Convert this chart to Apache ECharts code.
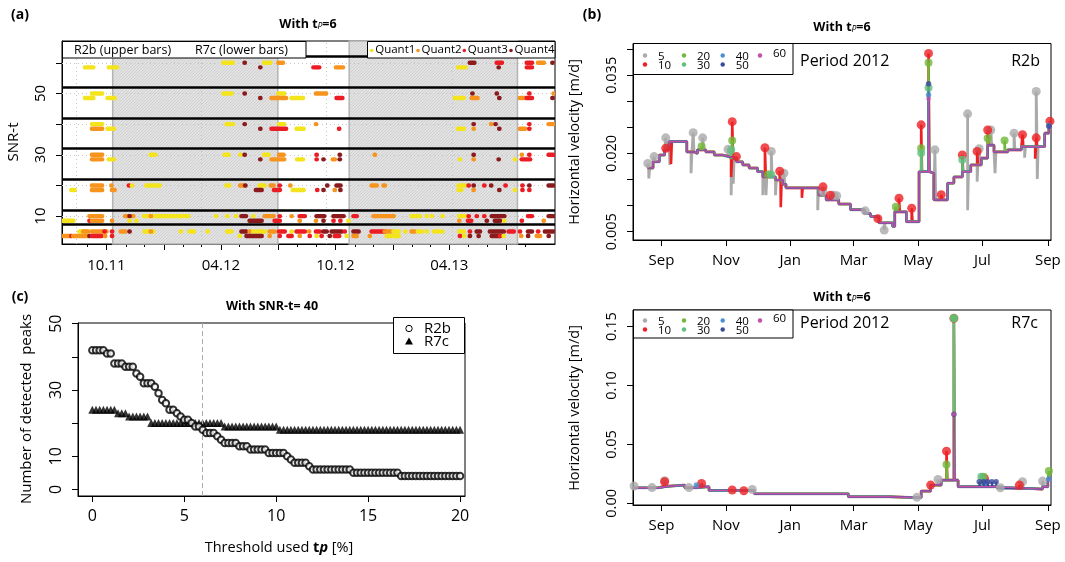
<!DOCTYPE html>
<html><head><meta charset="utf-8">
<script src="https://cdn.jsdelivr.net/npm/echarts@6/dist/echarts.min.js"></script>
<style>html,body{margin:0;padding:0;background:#fff}#c{width:1065px;height:562px}</style>
</head><body><div id="c"></div>
<script>
// ================= DATA =================
// ---- Panel (a): detected peaks per SNR-t threshold ----
const aStart = '2011-10-01';              // day offsets in the event lists are counted from this date
const snrLevels = [60, 50, 40, 30, 20, 10, 5];
const groupSeparators = [62, 52, 42, 32, 22, 12, 7.3];
const snowPeriods = [['2011-10-11', '2012-07-01'], ['2012-10-23', '2013-07-19']];
const aTickDates = ['2011-10-01', '2012-04-01', '2012-10-01', '2013-04-01'];
const aTickLabels = ['10.11', '04.12', '10.12', '04.13'];
const quantNames = ['Quant1', 'Quant2', 'Quant3', 'Quant4'];
// [SNR-t, first day, last day, quantile]
const eventsR2b = [
 [60,187,202,1],[60,221,221,4],[60,252,262,1],[60,275,282,2],[60,581,588,4],[60,624,632,3],[60,672,680,3],[60,690,699,2],[60,713,713,4],
 [50,-23,-7,1],[50,187,200,1],[50,221,221,4],[50,275,284,1],[50,335,351,2],[50,585,585,4],[50,624,624,4],[50,676,676,3],[50,715,715,2],
 [40,-23,-7,1],[40,192,202,1],[40,221,221,4],[40,276,284,1],[40,335,335,2],[40,587,587,4],[40,615,615,2],[40,622,622,4],[40,676,676,3],[40,707,714,2],
 [30,-23,-7,2],[30,71,78,1],[30,189,195,1],[30,214,214,1],[30,221,221,4],[30,252,259,1],[30,276,283,2],[30,336,336,3],[30,373,373,4],[30,429,429,2],[30,587,587,4],[30,664,664,2],[30,676,676,3],[30,707,714,3],
 [20,-23,-7,2],[20,8,8,2],[20,36,36,3],[20,41,41,1],[20,64,85,1],[20,192,196,1],[20,214,219,2],[20,222,222,4],[20,245,253,1],[20,263,267,2],[20,277,277,3],[20,294,294,2],[20,353,353,4],[20,368,374,4],[20,424,432,2],[20,443,445,2],[20,563,573,1],[20,579,579,3],[20,587,587,4],[20,604,604,3],[20,615,615,4],[20,638,638,3],[20,665,665,3],[20,676,676,4],[20,707,714,4],
 [10,-27,-7,2],[10,30,43,2],[10,37,37,4],[10,60,131,1],[10,71,71,2],[10,175,175,1],[10,193,193,1],[10,207,207,1],[10,216,223,4],[10,235,235,1],[10,253,267,2],[10,277,277,3],[10,296,296,2],[10,309,317,3],[10,336,348,4],[10,363,379,4],[10,395,400,3],[10,427,459,2],[10,488,501,1],[10,512,512,1],[10,520,520,1],[10,537,537,1],[10,564,573,1],[10,579,579,3],[10,592,592,3],[10,604,604,3],[10,616,636,4],[10,674,680,3],[10,707,714,4],
 [5,-43,-32,1],[5,-37,-29,2],[5,-23,0,2],[5,-3,-3,3],[5,9,9,3],[5,23,30,2],[5,37,37,4],[5,61,75,1],[5,71,71,2],[5,119,119,1],[5,133,140,1],[5,162,162,1],[5,193,200,1],[5,216,223,4],[5,229,229,2],[5,235,253,1],[5,261,269,2],[5,276,285,3],[5,296,296,1],[5,304,317,3],[5,324,324,2],[5,335,341,3],[5,347,352,4],[5,360,376,4],[5,381,381,3],[5,395,403,4],[5,424,445,3],[5,445,456,2],[5,459,467,1],[5,478,478,1],[5,488,493,2],[5,498,504,1],[5,512,512,1],[5,524,531,1],[5,537,537,1],[5,564,571,1],[5,581,581,3],[5,592,597,4],[5,613,635,4],[5,643,651,3],[5,661,661,3],[5,674,680,4],[5,690,690,3],[5,701,714,4]
];
const eventsR7c = [
 [60,-34,-21,1],[60,4,17,1],[60,246,246,4],[60,331,340,3],[60,367,378,2],[60,562,574,1],[60,627,627,4],[60,672,680,3],
 [50,-34,-21,1],[50,2,13,1],[50,246,246,4],[50,264,287,2],[50,296,314,1],[50,368,377,3],[50,557,571,1],[50,584,593,2],[50,628,628,4],[50,661,669,2],[50,672,680,3],[50,713,713,4],
 [40,-23,-7,2],[40,2,12,1],[40,246,246,4],[40,264,287,3],[40,304,315,1],[40,372,372,3],[40,562,571,1],[40,587,587,2],[40,628,628,4],[40,661,669,2],[40,676,676,3],
 [30,-23,-7,2],[30,4,12,1],[30,246,246,4],[30,264,284,2],[30,305,314,1],[30,336,336,3],[30,347,347,4],[30,362,365,2],[30,373,373,4],[30,565,565,1],[30,587,587,2],[30,627,627,4],[30,653,653,1],[30,664,677,3],
 [20,-56,-51,1],[20,-23,-7,2],[20,9,13,2],[20,239,248,4],[20,268,277,3],[20,298,315,1],[20,337,337,3],[20,347,347,4],[20,365,365,2],[20,374,374,4],[20,563,567,1],[20,587,587,2],[20,628,628,4],[20,653,653,1],[20,665,665,3],[20,676,676,3],
 [10,-71,-53,1],[10,-27,-27,3],[10,-23,-7,2],[10,9,9,2],[10,37,37,1],[10,48,48,1],[10,229,248,4],[10,269,277,3],[10,309,309,2],[10,335,335,2],[10,347,347,4],[10,363,363,3],[10,374,374,3],[10,387,387,1],[10,564,564,2],[10,578,583,3],[10,608,608,4],[10,621,629,4],[10,636,636,1],[10,664,664,3],[10,699,699,2],
 [5,-71,-57,2],[5,-56,-56,3],[5,-53,-29,2],[5,-27,-27,4],[5,-23,-8,3],[5,-2,-2,2],[5,9,9,3],[5,213,213,1],[5,224,248,4],[5,261,261,2],[5,277,277,3],[5,291,296,3],[5,309,309,2],[5,325,325,3],[5,336,336,1],[5,344,344,3],[5,357,357,4],[5,365,372,3],[5,384,384,1],[5,395,400,2],[5,421,421,2],[5,448,467,1],[5,565,565,3],[5,572,572,1],[5,581,581,4],[5,595,595,4],[5,616,629,4],[5,629,629,3],[5,635,635,1],[5,663,663,2],[5,674,674,4],[5,688,693,2],[5,707,707,4]
];

// ---- Panel (c): number of detected peaks vs threshold tp ----
const tpValues = [0,0.2,0.4,0.6,0.8,1,1.2,1.4,1.6,1.8,2,2.2,2.4,2.6,2.8,3,3.2,3.4,3.6,3.8,4,4.2,4.4,4.6,4.8,5,5.2,5.4,5.6,5.8,6,6.2,6.4,6.6,6.8,7,7.2,7.4,7.6,7.8,8,8.2,8.4,8.6,8.8,9,9.2,9.4,9.6,9.8,10,10.2,10.4,10.6,10.8,11,11.2,11.4,11.6,11.8,12,12.2,12.4,12.6,12.8,13,13.2,13.4,13.6,13.8,14,14.2,14.4,14.6,14.8,15,15.2,15.4,15.6,15.8,16,16.2,16.4,16.6,16.8,17,17.2,17.4,17.6,17.8,18,18.2,18.4,18.6,18.8,19,19.2,19.4,19.6,19.8,20];
const peaksR2b = [42,42,42,42,41,41,38,38,38,37,37,37,35,34,32,32,32,31,29,27,26,24,24,23,22,21,21,20,19,19,18,17,17,17,16,15,14,14,14,14,13,13,13,12,12,12,12,12,11,11,11,11,11,10,9,8,8,8,8,7,6,6,6,6,6,6,6,6,6,6,6,5,5,5,5,5,5,5,5,5,5,5,5,5,4,4,4,4,4,4,4,4,4,4,4,4,4,4,4,4,4];
const peaksR7c = [24,24,24,24,24,24,24,23,23,23,22,22,22,22,22,22,20,20,20,20,20,20,20,20,20,20,20,20,20,20,20,20,20,20,20,20,19,19,19,19,19,19,19,19,19,19,19,19,19,19,19,18,18,18,18,18,18,18,18,18,18,18,18,18,18,18,18,18,18,18,18,18,18,18,18,18,18,18,18,18,18,18,18,18,18,18,18,18,18,18,18,18,18,18,18,18,18,18,18,18,18];
const tpChosen = 6;

// ---- Panels (b) and (d): horizontal velocity, period 2012 ----
const snrNames = ['5', '10', '20', '30', '40', '50', '60'];
const vTickDates = ['2011-09-01','2011-11-01','2012-01-01','2012-03-01','2012-05-01','2012-07-01','2012-09-01'];
const vTickLabels = ['Sep','Nov','Jan','Mar','May','Jul','Sep'];
const vRange = ['2011-08-05', '2012-09-04'];
// common stepped velocity [date, m/d]
const r2bBase = [
 ['2011-08-19',0.0172],['2011-08-24',0.0184],['2011-08-30',0.0197],['2011-09-04',0.0207],['2011-09-08',0.0223],['2011-09-25',0.0203],
 ['2011-10-02',0.0200],['2011-10-05',0.0207],['2011-10-13',0.0203],['2011-10-21',0.0197],['2011-10-29',0.0194],['2011-11-04',0.0191],
 ['2011-11-11',0.0184],['2011-11-17',0.0178],['2011-11-23',0.0172],['2011-12-01',0.0165],['2011-12-06',0.0155],['2011-12-18',0.0149],
 ['2011-12-25',0.0141],['2011-12-28',0.0134],['2012-01-28',0.0120],['2012-02-04',0.0111],['2012-02-16',0.0103],['2012-02-27',0.0092],
 ['2012-03-11',0.0085],['2012-03-17',0.0079],['2012-03-25',0.0067],['2012-04-07',0.0060],['2012-04-09',0.0088],['2012-04-20',0.0069],
 ['2012-05-02',0.0165],['2012-05-13',0.0162],['2012-05-16',0.0111],['2012-05-29',0.0143],['2012-06-04',0.0155],['2012-06-12',0.0165],
 ['2012-06-20',0.0178],['2012-06-30',0.0191],['2012-07-06',0.0216],['2012-07-12',0.0203],['2012-07-25',0.0207],['2012-08-07',0.0213],
 ['2012-08-29',0.0239],['2012-09-02',0.0251],['2012-09-04',0.0251]
];
// detected peaks (drawn with a dot), one list per SNR-t
const r2bPeaks = [
 [['2011-08-19',0.0181],['2011-08-25',0.0194],['2011-09-05',0.0230],['2011-10-01',0.0240],['2011-10-10',0.0230],['2011-11-03',0.0208],['2011-12-14',0.0204],['2011-12-26',0.0162],['2012-02-01',0.0127],['2012-02-11',0.0120],['2012-02-14',0.0119],['2012-03-12',0.0090],['2012-03-30',0.0053],['2012-05-17',0.0207],['2012-06-17',0.0276],['2012-06-28',0.0209],['2012-07-09',0.0245],['2012-07-31',0.0239],['2012-08-21',0.0319]],
 [['2011-09-05',0.0210],['2011-11-07',0.0261],['2011-11-11',0.0194],['2011-12-08',0.0211],['2011-12-22',0.0166],['2012-02-01',0.0136],['2012-02-08',0.0120],['2012-03-24',0.0075],['2012-04-13',0.0114],['2012-04-25',0.0095],['2012-05-04',0.0255],['2012-05-11',0.0392],['2012-05-23',0.0121],['2012-06-12',0.0197],['2012-06-26',0.0204],['2012-07-06',0.0245],['2012-08-08',0.0236],['2012-08-21',0.0230],['2012-09-03',0.0262]],
 [['2011-10-09',0.0214],['2011-11-07',0.0225],['2011-12-11',0.0160],['2012-04-10',0.0098],['2012-05-04',0.0210],['2012-05-11',0.0374],['2012-07-06',0.0229],['2012-07-22',0.0225]],
 [['2011-11-06',0.0207],['2011-12-14',0.0159],['2012-05-04',0.0201],['2012-05-11',0.0326],['2012-06-12',0.0188]],
 [['2012-05-11',0.0312],['2012-09-02',0.0254]],
 [['2012-05-11',0.0334],['2012-09-02',0.0252]],
 [['2012-05-11',0.0305]]
];
// short downward excursions (no dot)
const r2bDips = [
 [['2011-08-20',0.0152],['2011-09-09',0.0178],['2011-09-29',0.0162],['2011-11-06',0.0120],['2011-11-08',0.0142],['2011-12-06',0.0120],['2011-12-09',0.0120],['2011-12-18',0.0120],['2012-01-27',0.0091],['2012-06-17',0.0091],['2012-06-26',0.0146],['2012-07-13',0.0162],['2012-08-10',0.0192],['2012-08-22',0.0151]],
 [['2011-09-10',0.0180],['2011-11-06',0.0155],['2011-12-23',0.0097],['2012-01-12',0.0115],['2012-08-20',0.0190]],
 [], [], [], [], []
];
const r7cBase = [
 ['2011-08-05',0.0132],['2011-08-29',0.0147],['2011-09-10',0.0155],['2011-09-23',0.0132],['2011-10-04',0.0141],['2011-10-16',0.0110],
 ['2011-11-28',0.0081],['2012-02-25',0.0056],['2012-04-04',0.0048],['2012-05-04',0.0104],['2012-05-13',0.0155],['2012-05-23',0.0197],
 ['2012-06-08',0.0141],['2012-07-14',0.0127],['2012-08-14',0.0121],['2012-08-27',0.0141],['2012-09-01',0.0212],['2012-09-04',0.0212]
];
const r7cPeaks = [
 [['2011-08-06',0.0147],['2011-08-23',0.0134],['2011-09-04',0.0192],['2011-09-27',0.0134],['2011-11-26',0.0118],['2012-04-30',0.0051],['2012-05-20',0.0203],['2012-07-18',0.0132],['2012-08-08',0.0183],['2012-08-27',0.0189]],
 [['2011-09-04',0.0183],['2011-10-09',0.0169],['2011-11-07',0.0113],['2011-11-18',0.0107],['2012-05-13',0.0155],['2012-05-28',0.0443],['2012-06-04',0.157],['2012-07-03',0.0212],['2012-08-05',0.0155]],
 [['2012-05-28',0.0330],['2012-06-04',0.157],['2012-07-02',0.0226],['2012-09-02',0.0274]],
 [['2012-06-04',0.157],['2012-06-30',0.0226]],
 [['2011-10-04',0.0155],['2012-07-04',0.0183],['2012-09-02',0.0206]],
 [['2012-06-04',0.0756],['2012-06-28',0.0183],['2012-07-02',0.0183],['2012-07-06',0.0183],['2012-07-10',0.0183],['2012-07-14',0.0183]],
 [['2012-06-04',0.0756]]
];
const r7cDips = [[], [], [], [], [], [], []];

// ================= STYLE =================
const FONT = "'Open Sans', 'Noto Sans', sans-serif";
const quantColors = ['#f3e41c', '#f7941d', '#ec1c24', '#8b1a1c'];
const snrColors = ['#aaaaaa', '#ee2024', '#72b83a', '#5fbf7d', '#4a8fd4', '#3b4a9c', '#c34fa6'];
const snrDot = [9, 9, 8, 8, 5.5, 5.5, 4.5];
const snrWidth = [2.8, 2.6, 2.4, 2.2, 2.0, 1.8, 1.4];
const DAY = 86400000;
const ts = s => Date.parse(s);

// ================= BUILD =================
const aT0 = ts(aStart);
const aMin = aT0 - 71 * DAY, aMax = aT0 + 717 * DAY;
const monthTicks = [], quarterTicks = [];
for (let k = 0; k < 24; k++) {
  const t = Date.UTC(2011, 8 + k, 1);
  monthTicks.push(t);
  if (new Date(t).getUTCMonth() % 3 === 0) quarterTicks.push(t);
}
const aData = [];
eventsR2b.forEach(e => aData.push([aT0 + e[1] * DAY, aT0 + e[2] * DAY, e[0], e[3]]));
eventsR7c.forEach(e => aData.push([aT0 + e[1] * DAY, aT0 + e[2] * DAY, e[0] - 1.5, e[3]]));

function hatchCanvas() {
  const c = document.createElement('canvas'); c.width = 3; c.height = 3;
  const g = c.getContext('2d');
  g.fillStyle = '#e2e2e2'; g.fillRect(0, 0, 3, 3);
  g.strokeStyle = '#cdcdcd'; g.lineWidth = 0.8; g.beginPath();
  g.moveTo(0, 3); g.lineTo(3, 0); g.moveTo(-1, 1); g.lineTo(1, -1); g.moveTo(2, 4); g.lineTo(4, 2);
  g.stroke();
  return c;
}

function stepAt(base, t) {
  let v = base[0][1];
  for (const p of base) { if (ts(p[0]) <= t) v = p[1]; else break; }
  return v;
}
function buildLine(base, peaks, dips) {
  const pts = base.map(p => [ts(p[0]), p[1]]);
  peaks.concat(dips).forEach(p => {
    const t = ts(p[0]);
    pts.push([t, p[1]]);
    pts.push([t + 0.8 * DAY, stepAt(base, t)]);
  });
  pts.sort((a, b) => a[0] - b[0]);
  return pts;
}

const AXL = { show: true, onZero: false, lineStyle: { color: '#000', width: 1 } };
const tick = (vals, len) => ({ show: true, customValues: vals, length: len, inside: false, lineStyle: { color: '#000', width: 1 } });
const lab = (vals, fmt, size, margin, rotate) => ({ show: true, customValues: vals, formatter: fmt, fontSize: size, fontFamily: FONT, color: '#000', margin: margin, rotate: rotate || 0, hideOverlap: false });
const noSplit = { show: false };

const vMin = ts(vRange[0]), vMax = ts(vRange[1]);
const vTickTs = vTickDates.map(ts);
const vFmt = v => { const i = vTickTs.indexOf(v); return i >= 0 ? vTickLabels[i] : ''; };
const aLabTs = aTickDates.map(ts);
const aFmt = v => { const i = aLabTs.indexOf(v); return i >= 0 ? aTickLabels[i] : ''; };

const grids = [
  { left: 62, top: 41, width: 493, height: 203 },
  { left: 633, top: 43.5, width: 418, height: 196.5 },
  { left: 78, top: 323, width: 387, height: 173 },
  { left: 633, top: 310, width: 418, height: 195 }
].map(g => Object.assign(g, { show: true, borderColor: '#000', borderWidth: 1, backgroundColor: 'transparent', containLabel: false, outerBoundsMode: 'none' }));

const xAxes = [
  { type: 'value', gridIndex: 0, position: 'bottom', min: aMin, max: aMax, axisLine: AXL, axisTick: tick(monthTicks, 3), axisLabel: { show: false }, splitLine: noSplit },
  { type: 'value', gridIndex: 0, position: 'bottom', offset: 0, min: aMin, max: aMax, axisLine: { show: false }, axisTick: tick(quarterTicks, 6), axisLabel: lab(aLabTs, aFmt, 15, 14), splitLine: noSplit },
  { type: 'value', gridIndex: 1, position: 'bottom', min: vMin, max: vMax, axisLine: AXL, axisTick: tick(vTickTs, 6), axisLabel: lab(vTickTs, vFmt, 15, 13), splitLine: noSplit },
  { type: 'value', gridIndex: 2, position: 'bottom', min: -0.78, max: 20.27, axisLine: AXL, axisTick: tick([0, 5, 10, 15, 20], 6), axisLabel: lab([0, 5, 10, 15, 20], v => String(v), 16, 12), splitLine: noSplit },
  { type: 'value', gridIndex: 3, position: 'bottom', min: vMin, max: vMax, axisLine: AXL, axisTick: tick(vTickTs, 6), axisLabel: lab(vTickTs, vFmt, 15, 13), splitLine: noSplit }
];
const yAxes = [
  { type: 'value', gridIndex: 0, position: 'left', min: 0.9, max: 67.1, axisLine: AXL, axisTick: tick([10, 20, 30, 40, 50, 60], 6), axisLabel: lab([10, 30, 50], v => String(v), 15, 14, 90), splitLine: noSplit },
  { type: 'value', gridIndex: 1, position: 'left', min: 0.0034, max: 0.0411, axisLine: AXL, axisTick: tick([0.005, 0.010, 0.015, 0.020, 0.025, 0.030, 0.035, 0.040], 6), axisLabel: lab([0.005, 0.020, 0.035], v => v.toFixed(3), 14.5, 14, 90), splitLine: noSplit },
  { type: 'value', gridIndex: 2, position: 'left', min: -2.0, max: 50.2, axisLine: AXL, axisTick: tick([0, 10, 20, 30, 40, 50], 6), axisLabel: lab([0, 10, 30, 50], v => String(v), 16, 14, 90), splitLine: noSplit },
  { type: 'value', gridIndex: 3, position: 'left', min: -0.0014, max: 0.1641, axisLine: AXL, axisTick: tick([0, 0.05, 0.10, 0.15], 6), axisLabel: lab([0, 0.05, 0.10, 0.15], v => v.toFixed(2), 14.5, 14, 90), splitLine: noSplit }
];

const series = [];
// panel (a) background: snow periods
series.push({ type: 'line', xAxisIndex: 0, yAxisIndex: 0, data: [], silent: true, z: 1,
  markArea: { silent: true, itemStyle: { color: { image: hatchCanvas(), repeat: 'repeat' }, borderColor: '#b4b4b4', borderWidth: 1.5 },
    data: snowPeriods.map(p => [{ xAxis: ts(p[0]) }, { xAxis: ts(p[1]) }]) } });
// panel (a) dotted grid
series.push({ type: 'line', xAxisIndex: 0, yAxisIndex: 0, data: [], silent: true, z: 2,
  markLine: { silent: true, symbol: ['none', 'none'], label: { show: false }, lineStyle: { color: '#c4c4c4', type: [1, 3], width: 1 },
    data: [10, 20, 30, 40, 50, 60].map(v => ({ yAxis: v })).concat(['2011-08-14', '2012-03-01', '2012-09-17', '2013-04-05'].map(d => ({ xAxis: ts(d) }))) } });
// panel (a) group separators
series.push({ type: 'line', xAxisIndex: 0, yAxisIndex: 0, data: [], silent: true, z: 3,
  markLine: { silent: true, symbol: ['none', 'none'], label: { show: false }, lineStyle: { color: '#000', type: 'solid', width: 2.6 },
    data: groupSeparators.map(v => ({ yAxis: v })) } });
// panel (a) events
series.push({ type: 'custom', xAxisIndex: 0, yAxisIndex: 0, data: aData, encode: { x: [0, 1], y: 2 }, z: 5, clip: true, silent: true,
  renderItem: (params, api) => {
    const y = api.value(2);
    const p0 = api.coord([api.value(0), y]), p1 = api.coord([api.value(1), y]);
    const h = 4.4;
    return { type: 'rect', shape: { x: p0[0] - 2.4, y: p0[1] - h / 2, width: p1[0] - p0[0] + 4.8, height: h, r: h / 2 },
      style: { fill: quantColors[api.value(3) - 1] } };
  } });

// panel (c)
series.push({ type: 'scatter', xAxisIndex: 3, yAxisIndex: 2, z: 4, silent: true, symbol: 'triangle', symbolSize: 8,
  itemStyle: { color: '#000' }, data: tpValues.map((t, i) => [t, peaksR7c[i]]) });
series.push({ type: 'scatter', xAxisIndex: 3, yAxisIndex: 2, z: 5, silent: true, symbol: 'emptyCircle', symbolSize: 6.5,
  itemStyle: { color: '#000', borderWidth: 1 }, data: tpValues.map((t, i) => [t, peaksR2b[i]]),
  markLine: { silent: true, symbol: ['none', 'none'], label: { show: false }, lineStyle: { color: '#aaaaaa', type: [5, 3], width: 1 }, data: [{ xAxis: tpChosen }] } });

// panels (b) and (d)
function addVelocity(xi, yi, base, peaks, dips) {
  snrNames.forEach((n, i) => {
    series.push({ type: 'line', xAxisIndex: xi, yAxisIndex: yi, step: 'end', showSymbol: false, silent: true, z: 3,
      lineStyle: { color: snrColors[i], width: snrWidth[i] }, data: buildLine(base, peaks[i], dips[i]) });
    series.push({ type: 'scatter', xAxisIndex: xi, yAxisIndex: yi, silent: true, z: 3, symbolSize: snrDot[i],
      itemStyle: { color: snrColors[i] }, data: peaks[i].map(p => [ts(p[0]), p[1]]) });
  });
}
addVelocity(2, 1, r2bBase, r2bPeaks, r2bDips);
addVelocity(4, 3, r7cBase, r7cPeaks, r7cDips);

// ================= GRAPHIC (text, legends) =================
const txt = (x, y, text, size, opt) => Object.assign({ type: 'text', x: x, y: y, z: 100,
  style: Object.assign({ text: text, fontSize: size, fontFamily: FONT, fill: '#000', align: 'left', verticalAlign: 'middle', textAlign: 'left', textVerticalAlign: 'middle' }, (opt && opt.style) || {}) },
  opt && opt.rotation ? { rotation: opt.rotation } : {});
const tpTitle = (x, y) => ({ type: 'text', x: x, y: y, z: 100, style: {
  text: '{a|With t}{s|P}{a|=6}', align: 'center', verticalAlign: 'middle', textAlign: 'center', textVerticalAlign: 'middle',
  rich: { a: { fontSize: 12.5, fontWeight: 'bold', fontFamily: FONT, fill: '#000', color: '#000' },
          s: { fontSize: 8.5, fontStyle: 'italic', fontFamily: FONT, fill: '#000', color: '#000', verticalAlign: 'bottom', padding: [5, 0, 0, 0] } } } });
const rect = (x, y, w, h) => ({ type: 'rect', z: 90, shape: { x: x, y: y, width: w, height: h }, style: { fill: '#fff', stroke: '#000', lineWidth: 1 } });
const dot = (x, y, r, c) => ({ type: 'circle', z: 100, shape: { cx: x, cy: y, r: r }, style: { fill: c } });

const graphics = [];
// panel (a)
graphics.push(txt(20, 15, '(a)', 14, { style: { fontWeight: 'bold', align: 'center', textAlign: 'center' } }));
graphics.push(tpTitle(308, 24));
graphics.push(txt(14, 142, 'SNR-t', 15, { rotation: Math.PI / 2, style: { align: 'center', textAlign: 'center' } }));
graphics.push(rect(62.5, 41.5, 243.5, 16.5));
graphics.push(txt(74, 50, 'R2b (upper bars)', 12.5));
graphics.push(txt(195, 50, 'R7c (lower bars)', 12.5));
graphics.push(rect(367.5, 41.5, 187.5, 16.5));
[371.7, 418, 464.3, 511].forEach((x, i) => {
  graphics.push(dot(x, 50.5, 1.8, quantColors[i]));
  graphics.push(txt(x + 3.5, 50, quantNames[i], 11.5));
});
// panel (b)
graphics.push(txt(592, 15, '(b)', 14, { style: { fontWeight: 'bold', align: 'center', textAlign: 'center' } }));
graphics.push(tpTitle(842, 27));
graphics.push(txt(575, 142, 'Horizontal velocity [m/d]', 14.5, { rotation: Math.PI / 2, style: { align: 'center', textAlign: 'center' } }));
function vLegend(top, h, rowA, rowB) {
  graphics.push(rect(633.5, top, 159.5, h));
  const pos = [[645, rowA], [645, rowB], [684, rowA], [684, rowB], [722.7, rowA], [722.7, rowB], [760, rowA]];
  pos.forEach((p, i) => {
    graphics.push(dot(p[0], p[1], 2.2, snrColors[i]));
    graphics.push(txt(p[0] + 13, i === 6 ? p[1] - 2 : p[1] + 1, snrNames[i], 11.5));
  });
}
vLegend(43.5, 31, 55.5, 64.5);
graphics.push(txt(800, 61.5, 'Period 2012', 16));
graphics.push(txt(1040, 61.5, 'R2b', 16, { style: { align: 'right', textAlign: 'right' } }));
// panel (c)
graphics.push(txt(20, 297, '(c)', 14, { style: { fontWeight: 'bold', align: 'center', textAlign: 'center' } }));
graphics.push(txt(272, 306, 'With SNR-t= 40', 12.5, { style: { fontWeight: 'bold', align: 'center', textAlign: 'center' } }));
graphics.push(txt(27, 409, 'Number of detected  peaks', 15, { rotation: Math.PI / 2, style: { align: 'center', textAlign: 'center' } }));
graphics.push({ type: 'text', x: 279, y: 548, z: 100, style: { text: '{a|Threshold used }{b|t}{c|p}{a| [%]}', align: 'center', verticalAlign: 'middle', textAlign: 'center', textVerticalAlign: 'middle',
  rich: { a: { fontSize: 14.5, fontFamily: FONT, color: '#000', fill: '#000' }, b: { fontSize: 14.5, fontWeight: 'bold', fontFamily: FONT, color: '#000', fill: '#000' }, c: { fontSize: 14.5, fontWeight: 'bold', fontStyle: 'italic', fontFamily: FONT, color: '#000', fill: '#000' } } } });
graphics.push(rect(393.5, 317.5, 71, 36));
graphics.push({ type: 'circle', z: 100, shape: { cx: 409, cy: 328.5, r: 3.2 }, style: { fill: '#fff', stroke: '#000', lineWidth: 1 } });
graphics.push({ type: 'polygon', z: 100, shape: { points: [[409, 337.5], [405, 344.5], [413, 344.5]] }, style: { fill: '#000' } });
graphics.push(txt(424, 328.5, 'R2b', 15));
graphics.push(txt(424, 342, 'R7c', 15));
// panel (d)
graphics.push(tpTitle(842, 297));
graphics.push(txt(575, 408, 'Horizontal velocity [m/d]', 14.5, { rotation: Math.PI / 2, style: { align: 'center', textAlign: 'center' } }));
vLegend(310, 28, 320.5, 329.5);
graphics.push(txt(800, 323.5, 'Period 2012', 16));
graphics.push(txt(1038, 323.5, 'R7c', 16, { style: { align: 'right', textAlign: 'right' } }));

const chart = echarts.init(document.getElementById('c'), null, { renderer: 'canvas' });
chart.setOption({
  animation: false,
  backgroundColor: '#fff',
  textStyle: { fontFamily: FONT, color: '#000' },
  grid: grids, xAxis: xAxes, yAxis: yAxes, series: series, graphic: graphics
});
</script></body></html>
